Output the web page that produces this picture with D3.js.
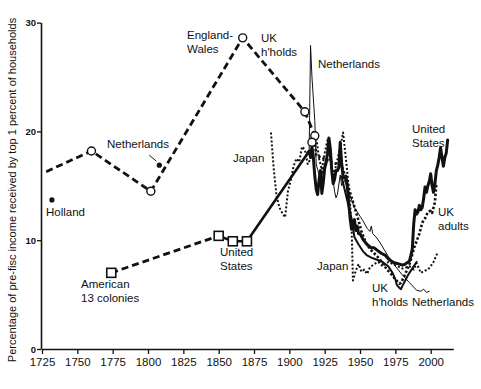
<!DOCTYPE html>
<html>
<head>
<meta charset="utf-8">
<script src="https://cdn.jsdelivr.net/npm/d3@7"></script>
<style>
  html, body { margin: 0; padding: 0; background: #fff; }
  text { font-family: "Liberation Sans", Arial, sans-serif; fill: #111; }
</style>
</head>
<body>
<div id="chart"></div>
<script>
// ── Data (year, % of pre-fisc income to top 1%) ─────────────────────────────
const ewUK = [[1728, 16.3], [1760, 18.2], [1802, 14.5], [1867, 28.6], [1911, 21.8], [1918, 19.6], [1916, 19.0]];
const colonies = [[1774, 7.0], [1850, 10.4]];
const usEarly = [[1850, 10.4], [1860, 9.9], [1870, 9.9], [1913, 18.0]];
const holland = [[1732, 13.7]];
const nethDot = [[1808, 16.9]];

const us = [
  [1913, 18.0], [1914, 18.2], [1915, 17.6], [1916, 18.6], [1917, 17.6], [1918, 15.9], [1919, 14.7],
  [1920, 14.2], [1921, 15.5], [1922, 16.4], [1923, 14.3], [1924, 15.3], [1925, 16.6], [1926, 17.1],
  [1927, 18.0], [1928, 19.4], [1929, 18.4], [1930, 16.4], [1931, 15.2], [1932, 15.6], [1933, 16.4],
  [1934, 16.4], [1935, 16.7], [1936, 19.0], [1937, 17.1], [1938, 15.8], [1939, 15.7], [1940, 15.9],
  [1941, 15.0], [1942, 13.4], [1943, 12.0], [1944, 11.0], [1945, 11.6], [1946, 11.9], [1947, 10.9],
  [1948, 11.3], [1949, 10.6], [1950, 10.6], [1952, 10.1], [1955, 9.6], [1958, 9.3], [1960, 9.3],
  [1963, 9.0], [1965, 8.8], [1968, 8.6], [1970, 8.3], [1973, 8.0], [1975, 7.9], [1978, 7.8],
  [1980, 7.7], [1982, 7.8], [1985, 8.1], [1986, 8.6], [1987, 9.2], [1988, 11.5], [1989, 12.8],
  [1990, 12.4], [1991, 12.6], [1992, 13.2], [1993, 12.8], [1994, 13.0], [1995, 13.8], [1996, 14.9],
  [1997, 14.4], [1998, 15.0], [1999, 15.4], [2000, 16.1], [2001, 15.0], [2002, 14.4], [2003, 15.2],
  [2004, 16.4], [2005, 16.9], [2006, 17.6], [2007, 18.5], [2008, 17.6], [2009, 16.8], [2010, 17.6],
  [2011, 18.0], [2012, 19.2]
];

const ukHholds = [
  [1937, 15.8], [1944, 12.0], [1946, 10.3], [1949, 9.6], [1952, 9.0], [1955, 8.6], [1958, 8.4],
  [1962, 8.2], [1966, 8.0], [1970, 7.6], [1973, 7.0], [1975, 6.4], [1976, 5.9], [1978, 5.6],
  [1979, 5.5], [1980, 5.8], [1982, 6.3], [1984, 6.8], [1986, 7.2], [1988, 7.6], [1990, 8.0]
];

const netherlands = [
  [1914, 18.0], [1915, 27.9], [1916, 25.0], [1917, 23.0], [1918, 21.0], [1919, 17.0], [1920, 16.5],
  [1922, 15.5], [1924, 16.5], [1926, 17.5], [1928, 18.0], [1930, 16.5], [1932, 14.5], [1933, 13.9],
  [1934, 14.2], [1936, 16.0], [1937, 15.0], [1939, 15.5], [1941, 14.8], [1946, 13.0], [1950, 12.2],
  [1952, 11.8], [1955, 11.1], [1957, 10.8], [1958, 11.3], [1959, 10.6], [1962, 10.2], [1965, 9.6],
  [1970, 8.5], [1975, 7.6], [1980, 6.8], [1985, 6.1], [1990, 5.4], [1993, 5.3], [1995, 5.5],
  [1997, 5.2], [1999, 5.3]
];

const ukAdults = [
  [1918, 19.2], [1919, 17.8], [1937, 16.8], [1938, 16.5], [1949, 11.8], [1951, 10.8], [1954, 9.8],
  [1957, 9.2], [1960, 8.8], [1963, 8.4], [1966, 7.9], [1969, 7.3], [1972, 6.9], [1975, 6.4],
  [1978, 6.0], [1979, 6.1], [1981, 6.6], [1983, 7.2], [1985, 7.8], [1986, 8.2], [1988, 9.2],
  [1990, 9.9], [1992, 10.6], [1994, 11.6], [1996, 12.0], [1998, 12.6], [2000, 12.7], [2001, 12.5],
  [2003, 13.5], [2004, 15.2]
];

const japan = [
  [1887, 19.9], [1889, 16.5], [1891, 14.0], [1893, 13.0], [1895, 12.5], [1897, 12.1], [1899, 14.5],
  [1901, 15.5], [1903, 16.8], [1905, 17.5], [1907, 17.2], [1909, 18.6], [1911, 18.3], [1913, 17.0],
  [1915, 17.5], [1917, 19.0], [1919, 19.5], [1921, 17.5], [1923, 16.5], [1925, 18.0], [1927, 19.2],
  [1929, 17.5], [1931, 16.0], [1933, 16.8], [1935, 18.0], [1937, 19.2], [1938, 19.9], [1940, 17.5],
  [1942, 15.0], [1944, 11.5], [1945, 6.3], [1947, 7.2], [1949, 7.8], [1951, 7.1], [1953, 7.3],
  [1955, 6.9], [1957, 7.5], [1960, 7.8], [1963, 8.0], [1966, 7.6], [1970, 8.0], [1975, 7.7],
  [1980, 7.4], [1985, 7.6], [1988, 7.3], [1990, 7.9], [1993, 7.0], [1996, 7.2], [1998, 7.3],
  [2000, 7.6], [2002, 8.0], [2005, 8.9]
];

const xTicks = [1725, 1750, 1775, 1800, 1825, 1850, 1875, 1900, 1925, 1950, 1975, 2000];
const yTicks = [0, 10, 20, 30];
const yTitle = "Percentage of pre-fisc income received by top 1 percent of households";

// ── Annotations (lines of text, pixel anchor) ────────────────────────────────
const notes = [
  [["England-", "Wales"], 187, 39],
  [["UK", "h'holds"], 261, 42],
  [["Netherlands"], 318, 68],
  [["Netherlands"], 107, 148],
  [["Japan"], 233, 162],
  [["Holland"], 46, 216],
  [["United", "States"], 220, 256],
  [["American", "13 colonies"], 81, 288],
  [["United", "States"], 412, 133],
  [["UK", "adults"], 438, 216],
  [["Japan"], 317, 270],
  [["UK", "h'holds"], 372, 292],
  [["Netherlands"], 412, 306]
];

// ── SVG & scales ─────────────────────────────────────────────────────────────
const W = 481, H = 389;
const svg = d3.select("#chart").append("svg").attr("width", W).attr("height", H);

const x = d3.scaleLinear().domain([1725, 2016]).range([42, 453.3]);
const y = d3.scaleLinear().domain([0, 30]).range([349, 22.6]);

const line = d3.line().x(d => x(d[0])).y(d => y(d[1]));

// ── Axes ─────────────────────────────────────────────────────────────────────
const xAxis = svg.append("g")
  .attr("transform", `translate(0,${y(0)})`)
  .call(d3.axisBottom(x).tickValues(xTicks).tickFormat(d3.format("d")).tickSize(5).tickSizeOuter(0));
xAxis.select(".domain").attr("stroke", "#111").attr("stroke-width", 1.6);
xAxis.selectAll(".tick line").attr("stroke", "#111").attr("stroke-width", 1.3);
xAxis.selectAll(".tick text").attr("dy", "0.72em").attr("y", 9)
  .style("font-size", "11.5px").style("font-family", "Liberation Sans, Arial, sans-serif");

const yAxis = svg.append("g")
  .attr("transform", `translate(41,0)`)
  .call(d3.axisLeft(y).tickValues(yTicks).tickSize(4).tickSizeOuter(0));
yAxis.select(".domain").attr("stroke", "#111").attr("stroke-width", 1.6);
yAxis.selectAll(".tick line").attr("stroke", "#111").attr("stroke-width", 1.3);
yAxis.selectAll(".tick text").attr("x", -5)
  .style("font-size", "9.5px").style("font-weight", "bold")
  .style("font-family", "Liberation Sans, Arial, sans-serif");

svg.append("text")
  .attr("transform", `translate(16,${190}) rotate(-90)`)
  .attr("text-anchor", "middle")
  .style("font-size", "11px")
  .text(yTitle);

// ── Series ───────────────────────────────────────────────────────────────────
function drawLine(data, width, dash) {
  svg.append("path")
    .datum(data)
    .attr("d", line)
    .attr("fill", "none")
    .attr("stroke", "#111")
    .attr("stroke-width", width)
    .attr("stroke-linejoin", "round")
    .attr("stroke-linecap", dash ? "butt" : "round")
    .attr("stroke-dasharray", dash || null);
}

drawLine(netherlands, 1, null);
drawLine(japan, 2, "2,2");
drawLine(ukAdults, 2.6, "2.4,2");
drawLine(ukHholds, 2, null);
drawLine(us, 3, null);
drawLine(usEarly, 2.6, null);
drawLine(colonies, 2.8, "7,4");
drawLine(ewUK, 2.8, "7,4");

// circles on the England-Wales / UK points (first point has none)
svg.selectAll(".circ")
  .data(ewUK.slice(1))
  .join("circle")
  .attr("cx", d => x(d[0])).attr("cy", d => y(d[1]))
  .attr("r", 4)
  .attr("fill", "#fff").attr("stroke", "#111").attr("stroke-width", 1.4);

// squares for American colonies / United States
svg.selectAll(".sq")
  .data([colonies[0], ...usEarly.slice(0, 3)])
  .join("rect")
  .attr("x", d => x(d[0]) - 4.5).attr("y", d => y(d[1]) - 4.5)
  .attr("width", 9).attr("height", 9)
  .attr("fill", "#fff").attr("stroke", "#111").attr("stroke-width", 1.6);

// solitary estimates
svg.selectAll(".dot")
  .data([...holland, ...nethDot])
  .join("circle")
  .attr("cx", d => x(d[0])).attr("cy", d => y(d[1]))
  .attr("r", 2.6).attr("fill", "#111");

// leader from "Netherlands" to its dot
svg.append("line")
  .attr("x1", x(nethDot[0][0]) - 10).attr("y1", y(nethDot[0][1]) - 10)
  .attr("x2", x(nethDot[0][0]) - 3).attr("y2", y(nethDot[0][1]) - 4)
  .attr("stroke", "#111").attr("stroke-width", 1);

// ── Labels ───────────────────────────────────────────────────────────────────
notes.forEach(([lines, px, py]) => {
  const t = svg.append("text").attr("x", px).attr("y", py).style("font-size", "11.5px");
  lines.forEach((s, i) => t.append("tspan").attr("x", px).attr("dy", i ? 13.5 : 0).text(s));
});
</script>
</body>
</html>
